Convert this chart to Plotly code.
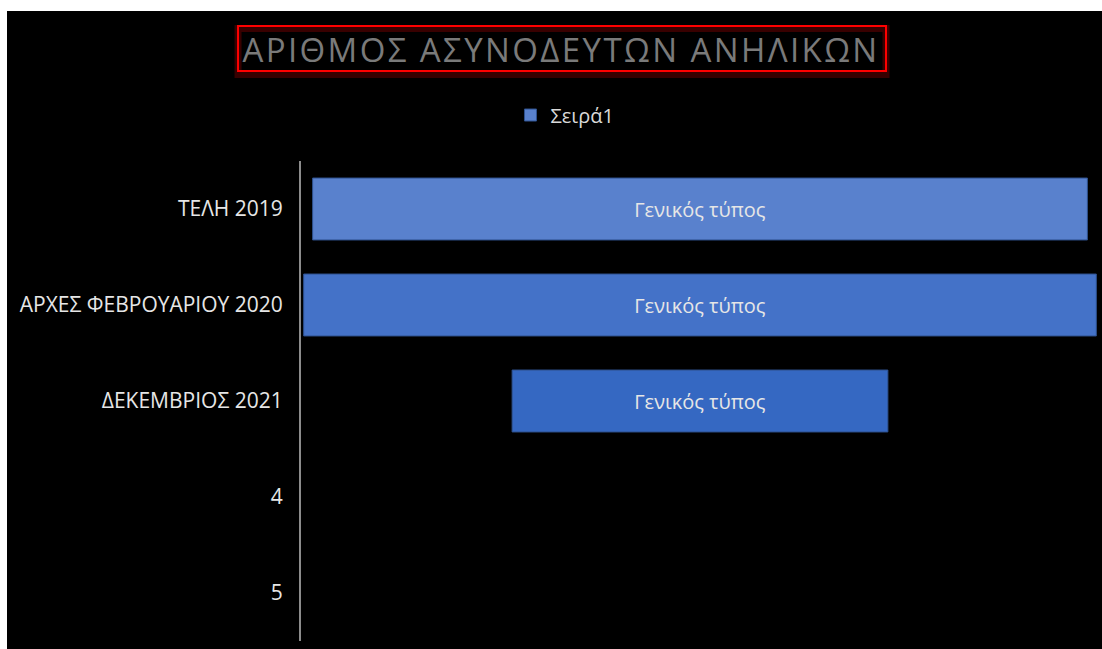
import plotly.graph_objects as go

# data
categories = ["ΤΕΛΗ 2019", "ΑΡΧΕΣ ΦΕΒΡΟΥΑΡΙΟΥ 2020", "ΔΕΚΕΜΒΡΙΟΣ 2021", "4", "5"]
values = [5340, 5463, 2590, None, None]
data_labels = ["Γενικός τύπος", "Γενικός τύπος", "Γενικός τύπος", "", ""]
series_name = "Σειρά1"
title_text = "ΑΡΙΘΜΟΣ ΑΣΥΝΟΔΕΥΤΩΝ ΑΝΗΛΙΚΩΝ"

BAR_COLORS = ["#5981CD", "#4472C8", "#3568C2", "#4472C4", "#4472C4"]
FONT = "Open Sans, Noto Sans, sans-serif"

# funnel-style: each bar centred on zero
bases = [-v / 2 if v is not None else None for v in values]

fig = go.Figure(go.Bar(
    y=categories,
    x=values,
    base=bases,
    orientation="h",
    name=series_name,
    width=0.645,
    marker=dict(color=BAR_COLORS, line=dict(color="#2F528F", width=1)),
    text=data_labels,
    textposition="inside",
    insidetextanchor="middle",
    textfont=dict(family=FONT, size=20, color="#E6E6E6"),
    hoverinfo="y+x",
))

fig.update_layout(
    width=1095,
    height=638,
    margin=dict(l=294, r=3, t=150, b=8),
    paper_bgcolor="#000000",
    plot_bgcolor="#000000",
    font=dict(family=FONT, color="#D9D9D9"),
    showlegend=True,
    legend=dict(
        orientation="h", x=0.3308, y=1.0958, xanchor="center", yanchor="middle",
        font=dict(size=20, color="#D9D9D9"), bgcolor="rgba(0,0,0,0)",
    ),
    xaxis=dict(range=[-2750, 2750], visible=False, fixedrange=True),
    yaxis=dict(
        autorange="reversed",
        showline=True, linecolor="#8C8C8C", linewidth=2,
        showgrid=False, zeroline=False, ticks="",
        ticklabelstandoff=12,
        tickfont=dict(size=21, color="#E6E6E6"),
    ),
    shapes=[
        # soft red glow below the title box
        dict(type="rect", xref="paper", yref="paper",
             x0=-0.0789, x1=0.7331, y0=1.180, y1=1.276,
             line=dict(color="rgba(255,0,0,0.22)", width=7), layer="below"),
        dict(type="rect", xref="paper", yref="paper",
             x0=-0.0789, x1=0.7331, y0=1.1875, y1=1.28125,
             line=dict(color="#FF0000", width=2)),
    ],
    annotations=[
        dict(text=title_text, xref="paper", yref="paper", x=0.3264, y=1.2323,
             xanchor="center", yanchor="middle", showarrow=False,
             font=dict(family=FONT, size=33, color="#7A7A7A")),
    ],
)

# place the chart like the reference (white strip top/left) and space the title letters
post = (
    "document.body.style.margin='11px 0 0 7px';"
    "document.body.style.overflow='hidden';"
    "document.querySelectorAll('.annotation-text').forEach(function(e){"
    "e.style.letterSpacing='2.4px';});"
)

fig.write_html("out.html", post_script=post)
